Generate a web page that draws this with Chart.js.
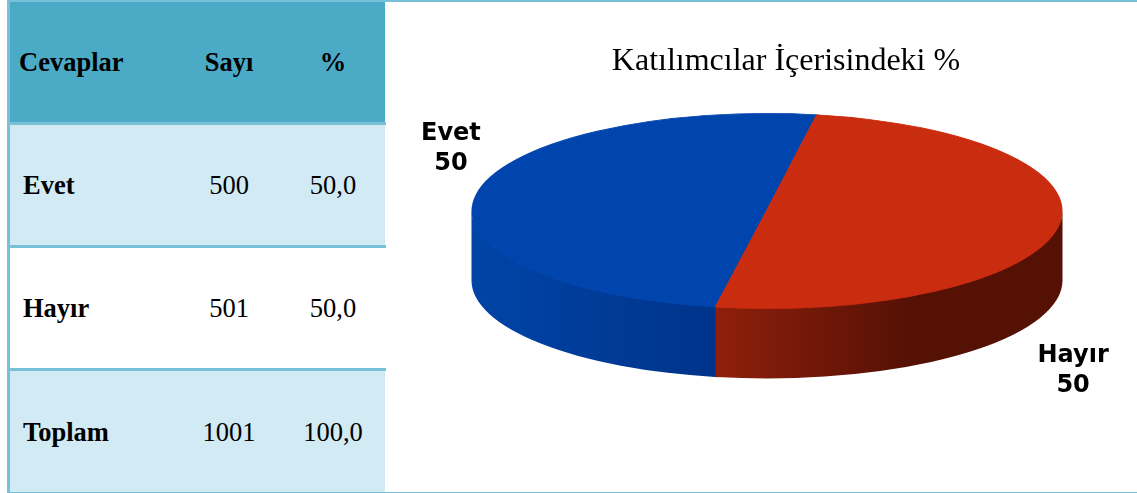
<!DOCTYPE html>
<html lang="tr">
<head>
<meta charset="utf-8">
<style>
html,body{margin:0;padding:0;background:#fff;overflow:hidden}
#page{position:relative;width:1137px;height:493px;overflow:hidden;font-family:"Liberation Serif",serif;color:#000}
.band,.rule,.cell{position:absolute}
.cell{font-size:26.5px;line-height:30px;white-space:nowrap}
.cell.b{font-weight:bold}
canvas{position:absolute;left:386px;top:0}
</style>
</head>
<body>
<div id="page"><canvas id="c" width="751" height="493"></canvas></div>
<script src="https://cdn.jsdelivr.net/npm/chart.js@4/dist/chart.umd.js"></script>
<script>
const headers = ["Cevaplar", "Sayı", "%"];
const answers = ["Evet", "Hayır", "Toplam"];
const counts = ["500", "501", "1001"];
const percents = ["50,0", "50,0", "100,0"];
const sliceLabels = ["Evet", "Hayır"];
const sliceCounts = [500, 501];
const slicePercents = [50, 50];
const sliceColors = ["#0045ae", "#ca2c10"];
const wallStops = [["#0044a6", "#00338a"], ["#8f1f0c", "#561105"]];
const titleText = "Katılımcılar İçerisindeki %";

const page = document.getElementById("page");
function box(cls, l, t, w, h, bg) {
  const d = document.createElement("div");
  d.className = cls;
  d.style.cssText = `left:${l}px;top:${t}px;width:${w}px;height:${h}px;background:${bg}`;
  page.insertBefore(d, page.firstChild);
}
function cell(text, x, cy, bold, center) {
  const d = document.createElement("div");
  d.className = "cell" + (bold ? " b" : "");
  d.textContent = text;
  d.style.top = (cy - 15) + "px";
  d.style.left = x + "px";
  if (center) d.style.transform = "translateX(-50%)";
  page.appendChild(d);
}
const LINE = "#78c0d8";
box("rule", 7, 491.5, 1130, 1.5, LINE);
box("rule", 7, 0, 1130, 2, LINE);
box("rule", 7, 0, 3, 493, LINE);
box("rule", 7, 368, 379, 3, LINE);
box("rule", 7, 245, 379, 3, LINE);
box("rule", 7, 122, 379, 3, LINE);
box("band", 10, 371, 375, 121, "#d2eaf3");
box("band", 10, 125, 375, 120, "#d2eaf3");
box("band", 10, 2, 375, 120, "#4babc7");

const COLX = [229, 333], ROWY = [185, 308, 432], HEADY = 62;
cell(headers[0], 19, HEADY, true, false);
cell(headers[1], COLX[0], HEADY, true, true);
cell(headers[2], COLX[1], HEADY, true, true);
answers.forEach((a, i) => {
  cell(a, 23, ROWY[i], true, false);
  cell(counts[i], COLX[0], ROWY[i], false, true);
  cell(percents[i], COLX[1], ROWY[i], false, true);
});

const RX = 295.5, RY = 98, DEPTH = 69.5, SHIFT_X = -19;
const labelOffsets = [[-25, -45], [15, 143]];

const pie3d = {
  id: "pie3d",
  beforeDatasetsDraw(chart) {
    const ctx = chart.ctx, arcs = chart.getDatasetMeta(0).data;
    const ax = arcs[0].x, cy = arcs[0].y, r = arcs[0].outerRadius + 0.5;
    const cx = ax + SHIFT_X;
    arcs.forEach((arc, i) => {
      let a0 = arc.startAngle, a1 = arc.endAngle;
      const T = Math.PI * 2;
      while (a0 < 0) { a0 += T; a1 += T; }
      const pieces = [[a0, a1], [a0 - T, a1 - T]];
      pieces.forEach(([s, e]) => {
        let from = Math.max(s, 0);
        const to = Math.min(e, Math.PI);
        if (to <= from) return;
        if (i === 0) from -= 0.008;
        const x0 = cx + RX * Math.cos(to), x1 = cx + RX * Math.cos(from);
        const g = ctx.createLinearGradient(x0, 0, x1, 0);
        const st = wallStops[i];
        g.addColorStop(0, st[0]);
        if (i === 1) g.addColorStop(0.55, st[1]);
        g.addColorStop(1, st[1]);
        ctx.save();
        ctx.beginPath();
        ctx.ellipse(cx, cy + DEPTH, RX, RY, 0, from, to);
        ctx.ellipse(cx, cy - 1, RX, RY, 0, to, from, true);
        ctx.closePath();
        ctx.fillStyle = g;
        ctx.fill();
        ctx.restore();
      });
    });
    ctx.save();
    ctx.translate(cx, cy);
    ctx.scale(RX / r, RY / r);
    ctx.translate(-ax, -cy);
  },
  afterDatasetsDraw(chart) {
    const ctx = chart.ctx, arcs = chart.getDatasetMeta(0).data;
    ctx.restore();
    ctx.save();
    ctx.fillStyle = "#000";
    ctx.font = 'bold 24px "DejaVu Sans"';
    ctx.textAlign = "center";
    ctx.textBaseline = "middle";
    arcs.forEach((arc, i) => {
      const m = (arc.startAngle + arc.endAngle) / 2;
      const x = arc.x + SHIFT_X + RX * Math.cos(m) + labelOffsets[i][0];
      const y = arc.y + RY * Math.sin(m) + labelOffsets[i][1];
      ctx.fillText(sliceLabels[i], x, y - 15);
      ctx.fillText(String(slicePercents[i]), x, y + 15);
    });
    ctx.restore();
  }
};

new Chart(document.getElementById("c"), {
  type: "pie",
  data: {
    labels: sliceLabels,
    datasets: [{ data: sliceCounts, backgroundColor: sliceColors, borderColor: sliceColors, borderWidth: 1, clip: false, hoverOffset: 0 }]
  },
  options: {
    responsive: false,
    animation: false,
    rotation: 190,
    layout: { padding: { left: 49, right: 0, top: 0, bottom: 154.4 } },
    plugins: {
      legend: { display: false },
      tooltip: { enabled: false },
      title: {
        display: true,
        fullSize: false,
        text: titleText,
        color: "#000",
        font: { family: '"Liberation Serif"', size: 32, weight: "normal" },
        padding: { top: 42, bottom: 3 }
      }
    }
  },
  plugins: [pie3d]
});
</script>
</body>
</html>
